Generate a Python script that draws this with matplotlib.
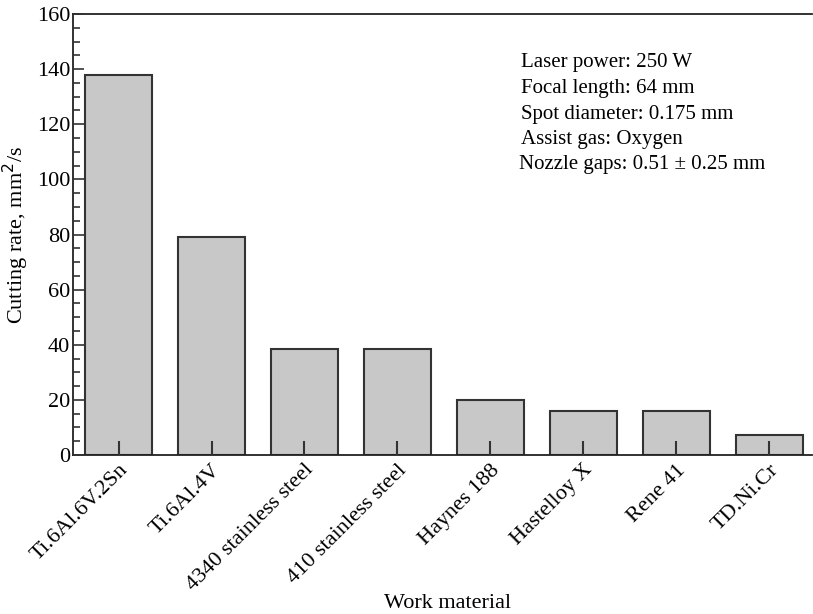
import matplotlib
matplotlib.use("Agg")
import matplotlib.pyplot as plt
from matplotlib.ticker import MultipleLocator

materials = ["Ti.6Al.6V.2Sn", "Ti.6Al.4V", "4340 stainless steel", "410 stainless steel",
             "Haynes 188", "Hastelloy X", "Rene 41", "TD.Ni.Cr"]
cutting_rate = [138, 79, 38.5, 38.5, 20, 16, 16, 7.4]
yticks = [0, 20, 40, 60, 80, 100, 120, 140, 160]
notes = ["Laser power: 250 W", "Focal length: 64 mm", "Spot diameter: 0.175 mm",
         "Assist gas: Oxygen", "Nozzle gaps: 0.51 \u00b1 0.25 mm"]

plt.rcParams['font.family'] = ['Liberation Serif', 'DejaVu Serif']
W, H = 813, 614
fig = plt.figure(figsize=(W / 100, H / 100), dpi=100)
ax = fig.add_axes([73 / W, 1 - 455 / H, (812 - 73) / W, (455 - 14) / H])

x = list(range(len(materials)))
ax.bar(x, cutting_rate, width=0.72, color="#c8c8c8", edgecolor="#333333", linewidth=1.5, zorder=2)

ax.set_xlim(-0.49, 7.46)
ax.set_ylim(0, 160)
ax.set_yticks(yticks)
ax.yaxis.set_minor_locator(MultipleLocator(5))
ax.tick_params(axis='y', which='major', direction='in', length=8, width=1.2, color='#333333', labelsize=16, pad=2)
ax.tick_params(axis='y', which='minor', direction='in', length=5, width=1.2, color='#333333')
ax.set_xticks(x)
ax.set_xticklabels(materials, rotation=45, ha='right', va='top', rotation_mode='anchor', fontsize=16)
ax.tick_params(axis='x', which='major', direction='in', length=10, width=1.5, color='#333333', pad=4)
for t in ax.get_xticklines():
    t.set_zorder(3)
ax.set_axisbelow(False)

for side in ['left', 'bottom', 'top']:
    ax.spines[side].set_linewidth(1.3)
    ax.spines[side].set_color('#222222')
ax.spines['right'].set_visible(False)

ax.set_ylabel("Cutting rate, mm$^2$/s", fontsize=16, labelpad=4)
fig.text(448 / W, 1 - 604 / H, "Work material", ha='center', va='center', fontsize=16)

for i, line in enumerate(notes):
    fig.text((521 if i < 4 else 519) / W, 1 - (63 + 25.5 * i) / H, line,
             ha='left', va='center', fontsize=15)

fig.savefig("out.png", dpi=100)
